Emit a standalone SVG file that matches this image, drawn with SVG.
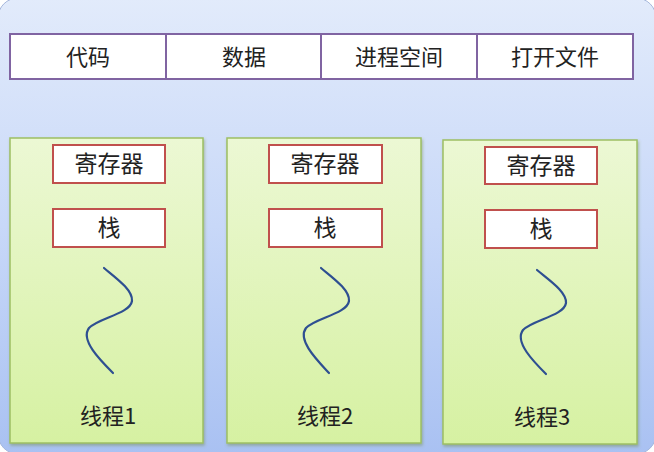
<svg xmlns="http://www.w3.org/2000/svg" width="654" height="452" viewBox="0 0 654 452">
<defs>
<linearGradient id="bg" x1="0" y1="0" x2="0" y2="1">
<stop offset="0" stop-color="#e2ebfb"/>
<stop offset="0.5" stop-color="#c8d8f8"/>
<stop offset="1" stop-color="#a9c1f2"/>
</linearGradient>
<linearGradient id="gr" x1="0" y1="0" x2="0" y2="1">
<stop offset="0" stop-color="#ecf8d4"/>
<stop offset="1" stop-color="#d6f1a2"/>
</linearGradient>
<filter id="sh" x="-5%" y="-5%" width="110%" height="110%">
<feDropShadow dx="1" dy="2" stdDeviation="1.5" flood-color="#6f8a3a" flood-opacity="0.45"/>
</filter>
</defs>
<style>
text{font-family:"Noto Sans CJK SC","Liberation Sans",sans-serif;fill:#222222;text-anchor:middle}
.cell{fill:#ffffff;stroke:#8064a2;stroke-width:2}
.thread{fill:url(#gr);stroke:#9dbf63;stroke-width:1.5}
.reg{fill:#ffffff;stroke:#c0504d;stroke-width:2}
.wave{fill:none;stroke:#2e4f91;stroke-width:2.2;stroke-linecap:round}
.t22{font-size:22px}
.t23{font-size:23px}
</style>
<rect x="0" y="0" width="654" height="452" fill="#ffffff"/>
<rect x="-2" y="-2" width="658" height="456" rx="20" fill="url(#bg)" stroke="#a7b8dc" stroke-width="1"/>

<g id="process-bar">
<rect class="cell" x="10" y="34" width="156" height="45"/>
<rect class="cell" x="166" y="34" width="155" height="45"/>
<rect class="cell" x="321" y="34" width="156" height="45"/>
<rect class="cell" x="477" y="34" width="156" height="45"/>
<text class="t22" x="88" y="65">代码</text>
<text class="t22" x="244" y="65">数据</text>
<text class="t22" x="399" y="65">进程空间</text>
<text class="t22" x="555" y="65">打开文件</text>
</g>

<g id="thread1">
<rect class="thread" x="10" y="138" width="193" height="305" filter="url(#sh)"/>
<rect class="reg" x="53" y="145" width="112" height="38"/>
<text class="t23" x="109" y="172">寄存器</text>
<rect class="reg" x="53" y="209" width="112" height="38"/>
<text class="t23" x="109" y="236">栈</text>
<path class="wave" d="M104,268 C116,278 133,290 132,301 C130,314 98,318 89,328 C80,340 100,360 113,373"/>
<text class="t22" x="108" y="424">线程1</text>
</g>

<g id="thread2">
<rect class="thread" x="227" y="138" width="194" height="305" filter="url(#sh)"/>
<rect class="reg" x="269" y="145" width="113" height="38"/>
<text class="t23" x="325" y="172">寄存器</text>
<rect class="reg" x="269" y="209" width="113" height="38"/>
<text class="t23" x="325" y="236">栈</text>
<path class="wave" d="M321,268 C333,278 350,290 349,301 C347,314 315,318 306,328 C297,340 317,360 329,373"/>
<text class="t22" x="325" y="424">线程2</text>
</g>

<g id="thread3">
<rect class="thread" x="443" y="140" width="194" height="304" filter="url(#sh)"/>
<rect class="reg" x="485" y="147" width="112" height="37"/>
<text class="t23" x="541" y="174">寄存器</text>
<rect class="reg" x="485" y="210" width="112" height="38"/>
<text class="t23" x="541" y="237">栈</text>
<path class="wave" d="M537,270 C549,280 567,292 566,303 C564,316 532,320 523,330 C514,342 534,362 546,374"/>
<text class="t22" x="542" y="425">线程3</text>
</g>

<g id="connectors"></g>
</svg>
